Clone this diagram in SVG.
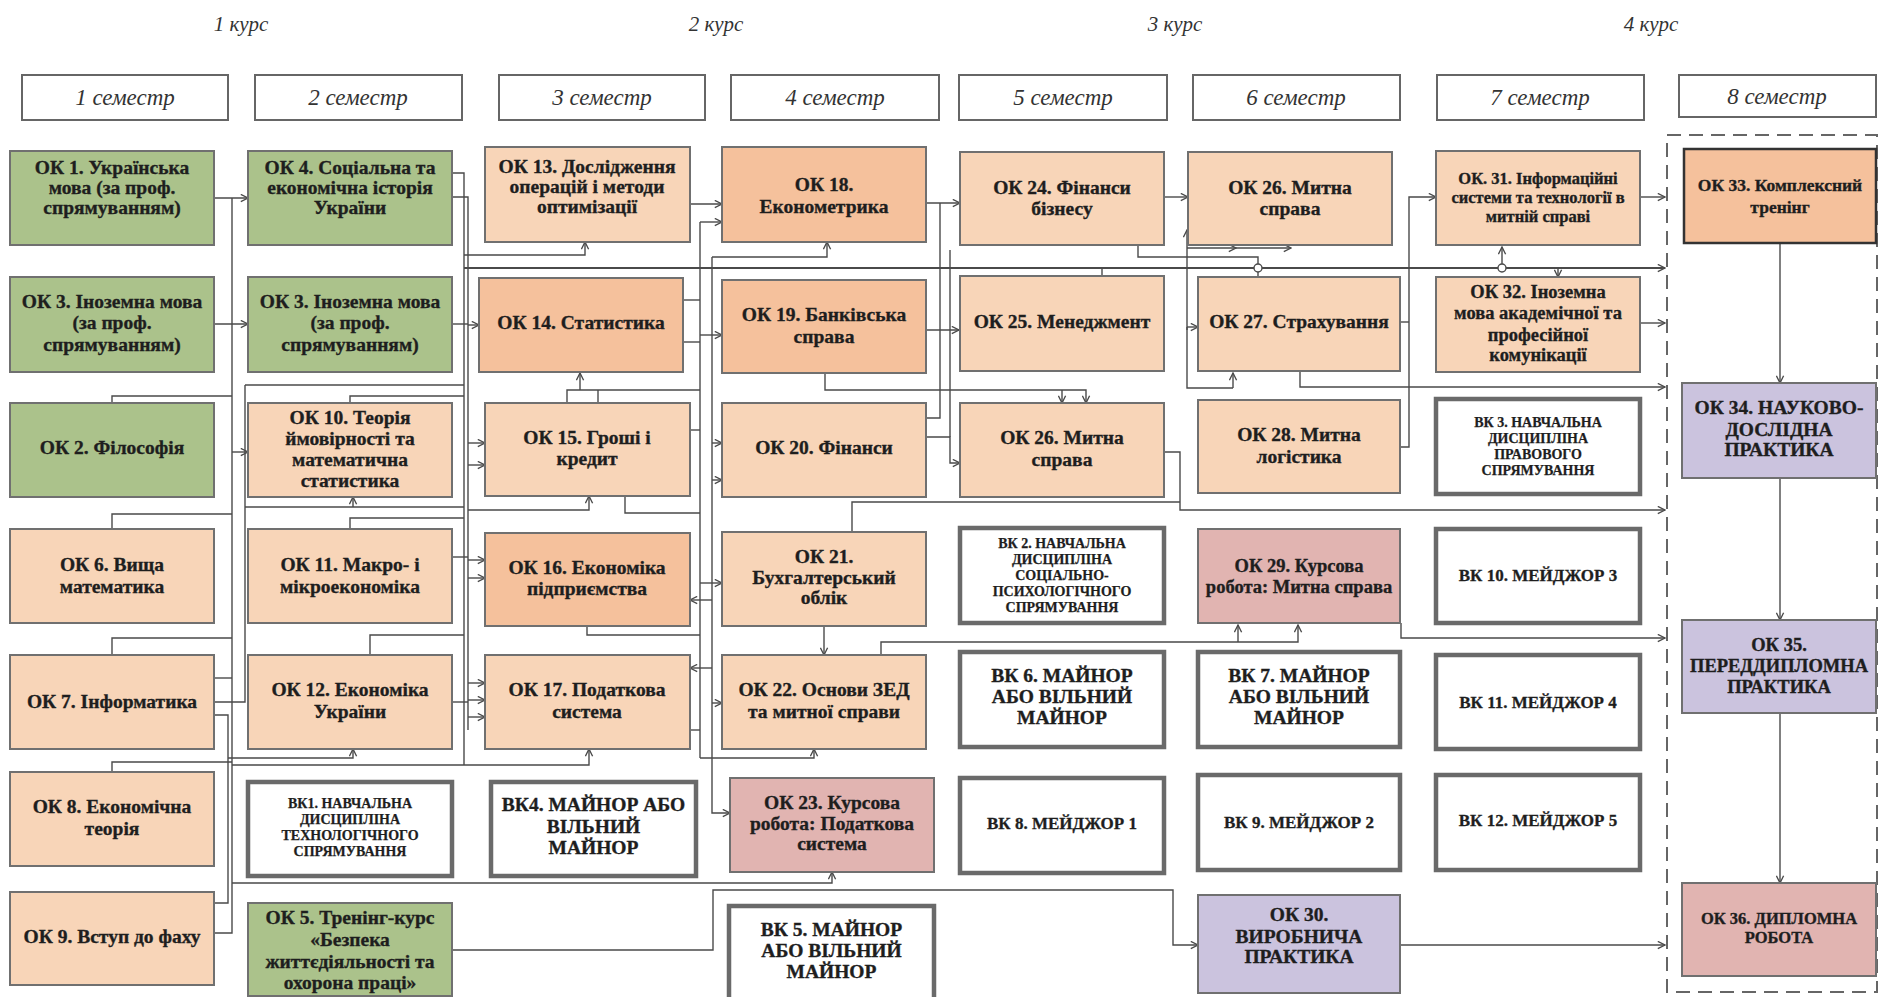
<svg xmlns="http://www.w3.org/2000/svg" width="1879" height="997" viewBox="0 0 1879 997" font-family="'Liberation Serif', 'DejaVu Serif', 'Times New Roman', serif">
<style>
text{font-family:"Liberation Serif","DejaVu Serif","Times New Roman",serif;fill:#1e1e1e;text-anchor:middle}
.t{font-weight:bold;font-size:19.5px;stroke:#1e1e1e;stroke-width:0.35}
.s{font-weight:bold;font-size:14px;stroke:#1e1e1e;stroke-width:0.25}
.m{font-weight:bold;font-size:17px;stroke:#1e1e1e;stroke-width:0.3}
.hd{font-style:italic;font-size:23px;fill:#333}
.cr{font-style:italic;font-size:21px;fill:#333}
.hb{fill:#fff;stroke:#666;stroke-width:2}
.n{stroke:#707070;stroke-width:2}
.g{fill:#abc28b}
.p{fill:#f8d5b8}
.d{fill:#f5c19c}
.k{fill:#e1b4b1}
.v{fill:#cbc3de}
.w{fill:#fff;stroke:#6a6a6a;stroke-width:4.5}
.c path{fill:none;stroke:#4a4a4a;stroke-width:1.4}
.c .a{marker-end:url(#ar)}
</style>
<defs>
<marker id="ar" viewBox="0 0 10 10" refX="9" refY="5" markerWidth="9" markerHeight="9" markerUnits="userSpaceOnUse" orient="auto"><path d="M1,1 L9,5 L1,9" fill="none" stroke="#4a4a4a" stroke-width="1.5"/></marker>
</defs>
<rect width="1879" height="997" fill="#fff"/>

<g id="courses">
<text class="cr" x="241" y="31">1 курс</text>
<text class="cr" x="716" y="31">2 курс</text>
<text class="cr" x="1175" y="31">3 курс</text>
<text class="cr" x="1651" y="31">4 курс</text>
</g>
<g id="headers">
<rect class="hb" x="22" y="75" width="206" height="45"/><text class="hd" x="125" y="105">1 семестр</text>
<rect class="hb" x="255" y="75" width="207" height="45"/><text class="hd" x="358" y="105">2 семестр</text>
<rect class="hb" x="499" y="75" width="206" height="45"/><text class="hd" x="602" y="105">3 семестр</text>
<rect class="hb" x="731" y="75" width="208" height="45"/><text class="hd" x="835" y="105">4  семестр</text>
<rect class="hb" x="959" y="75" width="208" height="45"/><text class="hd" x="1063" y="105">5 семестр</text>
<rect class="hb" x="1193" y="75" width="207" height="45"/><text class="hd" x="1296" y="105">6 семестр</text>
<rect class="hb" x="1437" y="75" width="207" height="45"/><text class="hd" x="1540" y="105">7 семестр</text>
<rect class="hb" x="1679" y="75" width="197" height="42"/><text class="hd" x="1777" y="104">8  семестр</text>
</g>
<rect id="final-block" x="1667" y="135" width="210" height="857" fill="none" stroke="#666" stroke-width="2" stroke-dasharray="14 8"/>

<g id="connectors" class="c">
<path d="M232,198 V933 H214"/>
<path d="M112,403 V396 H232"/>
<path d="M112,529 V514 H232"/>
<path d="M112,655 V638 H232"/>
<path d="M112,772 V762 H232"/>
<path d="M245,385 V702 H214"/>
<path d="M245,385 H464"/>
<path d="M214,678 H232"/>
<path d="M214,715 H228 V903 H214"/>
<path d="M350,403 V396 H464"/>
<path d="M350,529 V518 H464"/>
<path d="M370,655 V635 H464"/>
<path d="M245,507 H464"/>
<path d="M452,173 H464 V765"/>
<path d="M452,197 H468 V730"/>
<path d="M452,324 H468"/>
<path d="M452,557 H468"/>
<path d="M452,702 H468"/>
<path d="M683,300 H700"/>
<path d="M683,342 H700"/>
<path d="M700,222 V758"/>
<path d="M567,403 V390 H700"/>
<path d="M598,403 V390"/>
<path d="M690,430 H700"/>
<path d="M625,496 V513 H700"/>
<path d="M587,626 V635 H700"/>
<path d="M690,730 H700"/>
<path d="M940,203 V418 H926"/>
<path d="M950,250 V437"/>
<path d="M852,532 V502 H1180"/>
<path d="M1138,245 V257 H1258 V277"/>
<path d="M1102,276 V268"/>
<path d="M1400,322 H1409"/>
<path d="M1187,327 V388 H1233"/>

<path class="a" d="M214,198 H248"/>
<path class="a" d="M214,324 H248"/>
<path class="a" d="M232,452 H248"/>
<path class="a" d="M353,507 V497"/>
<path class="a" d="M228,758 H353 V749"/>
<path class="a" d="M232,765 H589 V749"/>
<path class="a" d="M232,883 H832 V872"/>
<path class="a" d="M464,255 H585 V242"/>
<path class="a" d="M464,268 H1665" style="stroke-width:2.2"/>
<path class="a" d="M468,325 H479"/>
<path class="a" d="M468,443 H485"/>
<path class="a" d="M468,465 H485"/>
<path class="a" d="M468,510 H589 V496"/>
<path class="a" d="M580,390 V373"/>
<path class="a" d="M468,560 H485"/>
<path class="a" d="M468,578 H485"/>
<path class="a" d="M468,683 H485"/>
<path class="a" d="M468,700 H485"/>
<path class="a" d="M468,717 H485"/>
<path class="a" d="M689,204 H722"/>
<path class="a" d="M700,222 H722"/>
<path class="a" d="M712,257 H827 V242"/>
<path class="a" d="M712,257 V813 H730"/>
<path class="a" d="M700,335 H722"/>
<path class="a" d="M712,443 H722"/>
<path class="a" d="M712,480 H722"/>
<path class="a" d="M700,583 H722"/>
<path class="a" d="M712,600 H690"/>
<path class="a" d="M712,668 H690"/>
<path class="a" d="M712,703 H722"/>
<path class="a" d="M700,758 H814 V749"/>
<path class="a" d="M926,203 H960"/>
<path class="a" d="M926,330 H959"/>
<path class="a" d="M926,437 H950 V463 H960"/>
<path class="a" d="M825,373 V390 H1086 V403"/>
<path class="a" d="M1062,390 V403"/>
<path class="a" d="M1164,197 H1188"/>
<path class="a" d="M1187,248 H1236"/>
<path class="a" d="M1236,248 H1291"/>
<path class="a" d="M1187,330 V230"/>
<path class="a" d="M1187,327 H1198"/>
<path class="a" d="M1233,388 V373"/>
<path class="a" d="M1164,452 H1180 V510 H1665"/>
<path class="a" d="M1300,371 V387 H1665"/>
<path class="a" d="M1400,447 H1409 V197 H1436"/>
<path class="a" d="M1502,268 V247"/>
<path class="a" d="M1558,268 V277"/>
<path class="a" d="M1640,197 H1665"/>
<path class="a" d="M1640,323 H1665"/>
<path class="a" d="M1401,623 V638 H1665"/>
<path class="a" d="M881,655 V642 H1298 V625"/>
<path class="a" d="M1238,642 V625"/>
<path class="a" d="M824,626 V655"/>
<path class="a" d="M452,950 H713 V890 H1173 V945 H1198"/>
<path class="a" d="M1400,945 H1665"/>
<path class="a" d="M1780,243 V383"/>
<path class="a" d="M1780,478 V620"/>
<path class="a" d="M1780,713 V883"/>
<circle cx="1258" cy="268" r="4" fill="#fff" stroke="#4a4a4a" stroke-width="1.4"/>
<circle cx="1502" cy="268" r="4" fill="#fff" stroke="#4a4a4a" stroke-width="1.4"/>
</g>

<g id="ok1"><rect class="n g" x="10" y="151" width="204" height="94"/><text class="t"><tspan x="112" y="174">ОК 1. Українська</tspan><tspan x="112" y="194">мова  (за проф.</tspan><tspan x="112" y="214">спрямуванням)</tspan></text></g>
<g id="ok4"><rect class="n g" x="248" y="151" width="204" height="94"/><text class="t"><tspan x="350" y="174">ОК 4. Соціальна та</tspan><tspan x="350" y="194">економічна історія</tspan><tspan x="350" y="214">України</tspan></text></g>
<g id="ok13"><rect class="n p" x="485" y="147" width="205" height="95"/><text class="t"><tspan x="587" y="173">ОК 13. Дослідження</tspan><tspan x="587" y="193">операцій  і   методи</tspan><tspan x="587" y="213">оптимізації</tspan></text></g>
<g id="ok18"><rect class="n d" x="722" y="147" width="204" height="95"/><text class="t"><tspan x="824" y="191">ОК 18.</tspan><tspan x="824" y="213">Економетрика</tspan></text></g>
<g id="ok24"><rect class="n p" x="960" y="152" width="204" height="93"/><text class="t"><tspan x="1062" y="194">ОК 24. Фінанси</tspan><tspan x="1062" y="215">бізнесу</tspan></text></g>
<g id="ok26a"><rect class="n p" x="1188" y="152" width="204" height="93"/><text class="t"><tspan x="1290" y="194">ОК 26. Митна</tspan><tspan x="1290" y="215">справа</tspan></text></g>
<g id="ok31"><rect class="n p" x="1436" y="151" width="204" height="94"/><text class="t" style="font-size:16.5px"><tspan x="1538" y="184">ОК. 31. Інформаційні</tspan><tspan x="1538" y="203">системи та технології в</tspan><tspan x="1538" y="222">митній справі</tspan></text></g>
<g id="ok33"><rect class="n d" x="1684" y="149" width="192" height="94" style="stroke:#333;stroke-width:2.5"/><text class="t" style="font-size:17.5px"><tspan x="1780" y="191">ОК 33. Комплексний</tspan><tspan x="1780" y="213">тренінг</tspan></text></g>

<g id="ok3a"><rect class="n g" x="10" y="277" width="204" height="95"/><text class="t"><tspan x="112" y="308">ОК 3. Іноземна мова</tspan><tspan x="112" y="329">(за проф.</tspan><tspan x="112" y="351">спрямуванням)</tspan></text></g>
<g id="ok3b"><rect class="n g" x="248" y="277" width="204" height="95"/><text class="t"><tspan x="350" y="308">ОК 3. Іноземна мова</tspan><tspan x="350" y="329">(за проф.</tspan><tspan x="350" y="351">спрямуванням)</tspan></text></g>
<g id="ok14"><rect class="n d" x="479" y="278" width="204" height="94"/><text class="t" x="581" y="329">ОК 14. Статистика</text></g>
<g id="ok19"><rect class="n d" x="722" y="280" width="204" height="93"/><text class="t"><tspan x="824" y="321">ОК 19. Банківська</tspan><tspan x="824" y="343">справа</tspan></text></g>
<g id="ok25"><rect class="n p" x="960" y="276" width="204" height="95"/><text class="t" x="1062" y="328">ОК 25. Менеджмент</text></g>
<g id="ok27"><rect class="n p" x="1198" y="277" width="202" height="94"/><text class="t" x="1299" y="328">ОК 27. Страхування</text></g>
<g id="ok32"><rect class="n p" x="1436" y="277" width="204" height="95"/><text class="t" style="font-size:18.5px"><tspan x="1538" y="298">ОК 32. Іноземна</tspan><tspan x="1538" y="319">мова академічної та</tspan><tspan x="1538" y="341">професійної</tspan><tspan x="1538" y="361">комунікації</tspan></text></g>

<g id="ok2"><rect class="n g" x="10" y="403" width="204" height="94"/><text class="t" x="112" y="454">ОК 2. Філософія</text></g>
<g id="ok10"><rect class="n p" x="248" y="403" width="204" height="94"/><text class="t"><tspan x="350" y="424">ОК 10. Теорія</tspan><tspan x="350" y="445">ймовірності та</tspan><tspan x="350" y="466">математична</tspan><tspan x="350" y="487">статистика</tspan></text></g>
<g id="ok15"><rect class="n p" x="485" y="403" width="205" height="93"/><text class="t"><tspan x="587" y="444">ОК 15. Гроші і</tspan><tspan x="587" y="465">кредит</tspan></text></g>
<g id="ok20"><rect class="n p" x="722" y="403" width="204" height="94"/><text class="t" x="824" y="454">ОК 20. Фінанси</text></g>
<g id="ok26b"><rect class="n p" x="960" y="403" width="204" height="94"/><text class="t"><tspan x="1062" y="444">ОК 26. Митна</tspan><tspan x="1062" y="466">справа</tspan></text></g>
<g id="ok28"><rect class="n p" x="1198" y="400" width="202" height="93"/><text class="t"><tspan x="1299" y="441">ОК 28. Митна</tspan><tspan x="1299" y="463">логістика</tspan></text></g>
<g id="vk3"><rect class="w" x="1436" y="399" width="204" height="95"/><text class="s"><tspan x="1538" y="426.5">ВК 3. НАВЧАЛЬНА</tspan><tspan x="1538" y="442.5">ДИСЦИПЛІНА</tspan><tspan x="1538" y="458.5">ПРАВОВОГО</tspan><tspan x="1538" y="474.5">СПРЯМУВАННЯ</tspan></text></g>
<g id="ok34"><rect class="n v" x="1682" y="383" width="194" height="95"/><text class="t"><tspan x="1779" y="414">ОК 34. НАУКОВО-</tspan><tspan x="1779" y="436">ДОСЛІДНА</tspan><tspan x="1779" y="456">ПРАКТИКА</tspan></text></g>

<g id="ok6"><rect class="n p" x="10" y="529" width="204" height="94"/><text class="t"><tspan x="112" y="571">ОК 6. Вища</tspan><tspan x="112" y="593">математика</tspan></text></g>
<g id="ok11"><rect class="n p" x="248" y="529" width="204" height="94"/><text class="t"><tspan x="350" y="571">ОК 11. Макро- і</tspan><tspan x="350" y="593">мікроекономіка</tspan></text></g>
<g id="ok16"><rect class="n d" x="485" y="533" width="205" height="93"/><text class="t"><tspan x="587" y="574">ОК 16. Економіка</tspan><tspan x="587" y="595">підприємства</tspan></text></g>
<g id="ok21"><rect class="n p" x="722" y="532" width="204" height="94"/><text class="t"><tspan x="824" y="563">ОК 21.</tspan><tspan x="824" y="584">Бухгалтерський</tspan><tspan x="824" y="604">облік</tspan></text></g>
<g id="vk2"><rect class="w" x="960" y="528" width="204" height="95"/><text class="s"><tspan x="1062" y="547.5">ВК  2. НАВЧАЛЬНА</tspan><tspan x="1062" y="563.5">ДИСЦИПЛІНА</tspan><tspan x="1062" y="579.5">СОЦІАЛЬНО-</tspan><tspan x="1062" y="595.5">ПСИХОЛОГІЧНОГО</tspan><tspan x="1062" y="611.5">СПРЯМУВАННЯ</tspan></text></g>
<g id="ok29"><rect class="n k" x="1198" y="529" width="202" height="94"/><text class="t" style="font-size:18.5px"><tspan x="1299" y="572">ОК 29. Курсова</tspan><tspan x="1299" y="593">робота: Митна справа</tspan></text></g>
<g id="vk10"><rect class="w" x="1436" y="529" width="204" height="94"/><text class="m" x="1538" y="581">ВК 10. МЕЙДЖОР 3</text></g>
<g id="ok35"><rect class="n v" x="1682" y="620" width="194" height="93"/><text class="t" style="font-size:18.5px"><tspan x="1779" y="651">ОК 35.</tspan><tspan x="1779" y="672">ПЕРЕДДИПЛОМНА</tspan><tspan x="1779" y="693">ПРАКТИКА</tspan></text></g>

<g id="ok7"><rect class="n p" x="10" y="655" width="204" height="94"/><text class="t" x="112" y="708">ОК 7. Інформатика</text></g>
<g id="ok12"><rect class="n p" x="248" y="655" width="204" height="94"/><text class="t"><tspan x="350" y="696">ОК 12. Економіка</tspan><tspan x="350" y="718">України</tspan></text></g>
<g id="ok17"><rect class="n p" x="485" y="655" width="205" height="94"/><text class="t"><tspan x="587" y="696">ОК 17. Податкова</tspan><tspan x="587" y="718">система</tspan></text></g>
<g id="ok22"><rect class="n p" x="722" y="655" width="204" height="94"/><text class="t"><tspan x="824" y="696">ОК 22. Основи ЗЕД</tspan><tspan x="824" y="718">та митної справи</tspan></text></g>
<g id="vk6"><rect class="w" x="960" y="652" width="204" height="95"/><text class="t"><tspan x="1062" y="682">ВК 6. МАЙНОР</tspan><tspan x="1062" y="703">АБО ВІЛЬНИЙ</tspan><tspan x="1062" y="724">МАЙНОР</tspan></text></g>
<g id="vk7"><rect class="w" x="1198" y="652" width="202" height="95"/><text class="t"><tspan x="1299" y="682">ВК 7. МАЙНОР</tspan><tspan x="1299" y="703">АБО ВІЛЬНИЙ</tspan><tspan x="1299" y="724">МАЙНОР</tspan></text></g>
<g id="vk11"><rect class="w" x="1436" y="655" width="204" height="94"/><text class="m" x="1538" y="708">ВК 11. МЕЙДЖОР 4</text></g>

<g id="ok8"><rect class="n p" x="10" y="772" width="204" height="94"/><text class="t"><tspan x="112" y="813">ОК 8. Економічна</tspan><tspan x="112" y="835">теорія</tspan></text></g>
<g id="vk1"><rect class="w" x="248" y="782" width="204" height="94"/><text class="s"><tspan x="350" y="807.5">ВК1. НАВЧАЛЬНА</tspan><tspan x="350" y="823.5">ДИСЦИПЛІНА</tspan><tspan x="350" y="839.5">ТЕХНОЛОГІЧНОГО</tspan><tspan x="350" y="855.5">СПРЯМУВАННЯ</tspan></text></g>
<g id="vk4"><rect class="w" x="491" y="782" width="205" height="94"/><text class="t"><tspan x="593.5" y="811">ВК4. МАЙНОР АБО</tspan><tspan x="593.5" y="833">ВІЛЬНИЙ</tspan><tspan x="593.5" y="854">МАЙНОР</tspan></text></g>
<g id="ok23"><rect class="n k" x="730" y="778" width="204" height="94"/><text class="t"><tspan x="832" y="809">ОК 23. Курсова</tspan><tspan x="832" y="830">робота: Податкова</tspan><tspan x="832" y="850">система</tspan></text></g>
<g id="vk8"><rect class="w" x="960" y="778" width="204" height="95"/><text class="m" x="1062" y="829">ВК 8. МЕЙДЖОР 1</text></g>
<g id="vk9"><rect class="w" x="1198" y="775" width="202" height="95"/><text class="m" x="1299" y="828">ВК 9. МЕЙДЖОР 2</text></g>
<g id="vk12"><rect class="w" x="1436" y="775" width="204" height="95"/><text class="m" x="1538" y="826">ВК 12. МЕЙДЖОР 5</text></g>

<g id="ok9"><rect class="n p" x="10" y="892" width="204" height="93"/><text class="t" x="112" y="943">ОК 9. Вступ до фаху</text></g>
<g id="ok5"><rect class="n g" x="248" y="903" width="204" height="93"/><text class="t"><tspan x="350" y="924">ОК 5. Тренінг-курс</tspan><tspan x="350" y="946">«Безпека</tspan><tspan x="350" y="968">життєдіяльності та</tspan><tspan x="350" y="989">охорона праці»</tspan></text></g>
<g id="vk5"><rect class="w" x="729" y="906" width="205" height="95"/><text class="t"><tspan x="831.5" y="936">ВК 5. МАЙНОР</tspan><tspan x="831.5" y="957">АБО ВІЛЬНИЙ</tspan><tspan x="831.5" y="978">МАЙНОР</tspan></text></g>
<g id="ok30"><rect class="n v" x="1198" y="895" width="202" height="98"/><text class="t"><tspan x="1299" y="921">ОК 30.</tspan><tspan x="1299" y="943">ВИРОБНИЧА</tspan><tspan x="1299" y="963">ПРАКТИКА</tspan></text></g>
<g id="ok36"><rect class="n k" x="1682" y="883" width="194" height="93"/><text class="t" style="font-size:16.5px"><tspan x="1779" y="924">ОК 36. ДИПЛОМНА</tspan><tspan x="1779" y="943">РОБОТА</tspan></text></g>
</svg>
